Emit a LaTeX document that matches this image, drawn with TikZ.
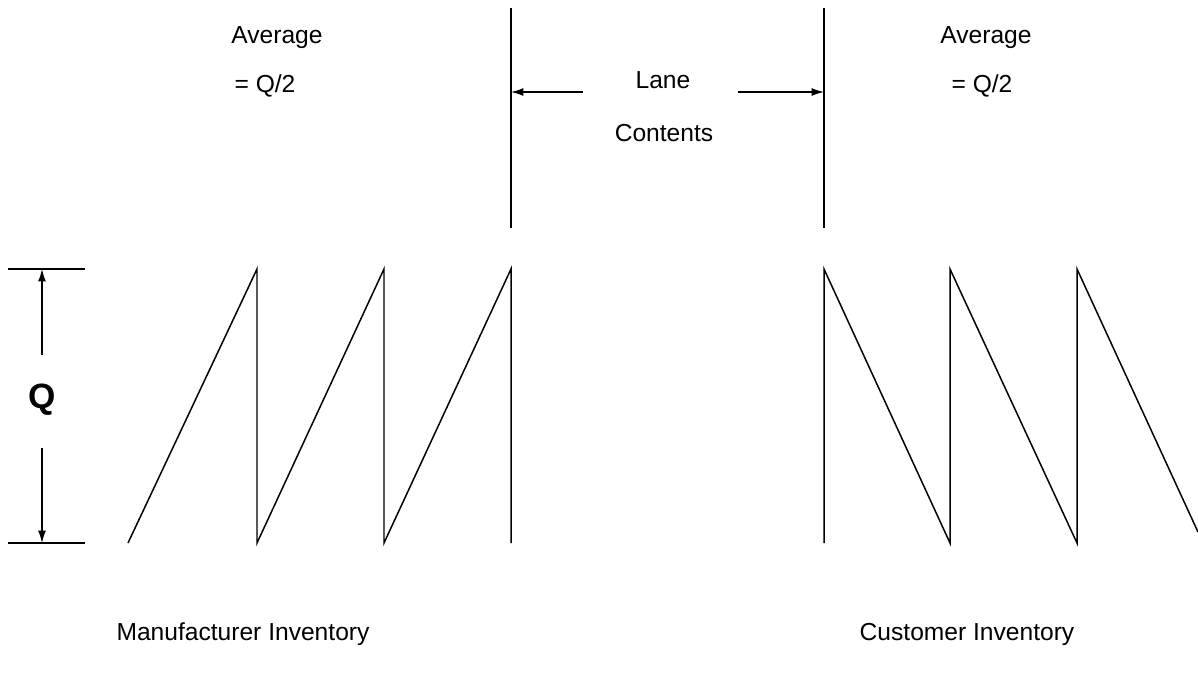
\documentclass[tikz,border=0pt]{standalone}
\usepackage{fontspec}
\setmainfont{Liberation Sans}
\usetikzlibrary{arrows.meta}
\begin{document}
\begin{tikzpicture}[x=0.02cm,y=-0.02cm,
  line/.style={line width=0.85pt,line join=miter},
  dim/.style={line width=0.75pt,-{Latex[length=7pt,width=4.5pt]}},
  lbl/.style={font=\fontsize{14}{16}\selectfont,inner sep=0pt},
  qlbl/.style={font=\fontsize{20}{22}\selectfont\bfseries,inner sep=0pt}]
\useasboundingbox (0,0) rectangle (1198,681);
% Q dimension
\coordinate (tl) at (8,269); \coordinate (tr) at (85,269);
\coordinate (bl) at (8,543); \coordinate (br) at (85,543);
\draw[line] (tl) -- (tr);
\draw[line] (bl) -- (br);
\node[qlbl] (q) at (42,400) {Q};
\coordinate (qa1) at (42,355); \coordinate (qa1t) at (42,269);
\coordinate (qa2) at (42,448); \coordinate (qa2t) at (42,543);
\draw[dim] (qa1) -- (qa1t);
\draw[dim] (qa2) -- (qa2t);
% manufacturer sawtooth
\coordinate (m0) at (128,543);
\coordinate (m1) at (257,269); \coordinate (m2) at (257,543);
\coordinate (m3) at (384,269); \coordinate (m4) at (384,543);
\coordinate (m5) at (511,269); \coordinate (m6) at (511,543);
\draw[line] (m0) -- (m1) -- (m2) -- (m3) -- (m4) -- (m5) -- (m6);
% customer sawtooth
\coordinate (c0) at (824,543); \coordinate (c1) at (824,269);
\coordinate (c2) at (950,543); \coordinate (c3) at (950,269);
\coordinate (c4) at (1077,543); \coordinate (c5) at (1077,269);
\coordinate (c6) at (1198,532);
\draw[line] (c0) -- (c1) -- (c2) -- (c3) -- (c4) -- (c5) -- (c6);
% lane verticals
\coordinate (v1t) at (511,8); \coordinate (v1b) at (511,228);
\coordinate (v2t) at (824,8); \coordinate (v2b) at (824,228);
\draw[line] (v1t) -- (v1b);
\draw[line] (v2t) -- (v2b);
\coordinate (la) at (583,92); \coordinate (lat) at (511,92);
\coordinate (ra) at (738,92); \coordinate (rat) at (824,92);
\draw[dim] (la) -- (lat);
\draw[dim] (ra) -- (rat);
\node[lbl] (lane) at (663,80) {Lane};
\node[lbl] (contents) at (664,133) {Contents};
% averages
\node[lbl] (avg1) at (277,38) {Average};
\node[lbl] (half1) at (265,86) {= Q/2};
\node[lbl] (avg2) at (986,38) {Average};
\node[lbl] (half2) at (982,86) {= Q/2};
% bottom labels
\node[lbl] (man) at (243,634) {Manufacturer Inventory};
\node[lbl] (cust) at (967,634) {Customer Inventory};
\end{tikzpicture}
\end{document}
